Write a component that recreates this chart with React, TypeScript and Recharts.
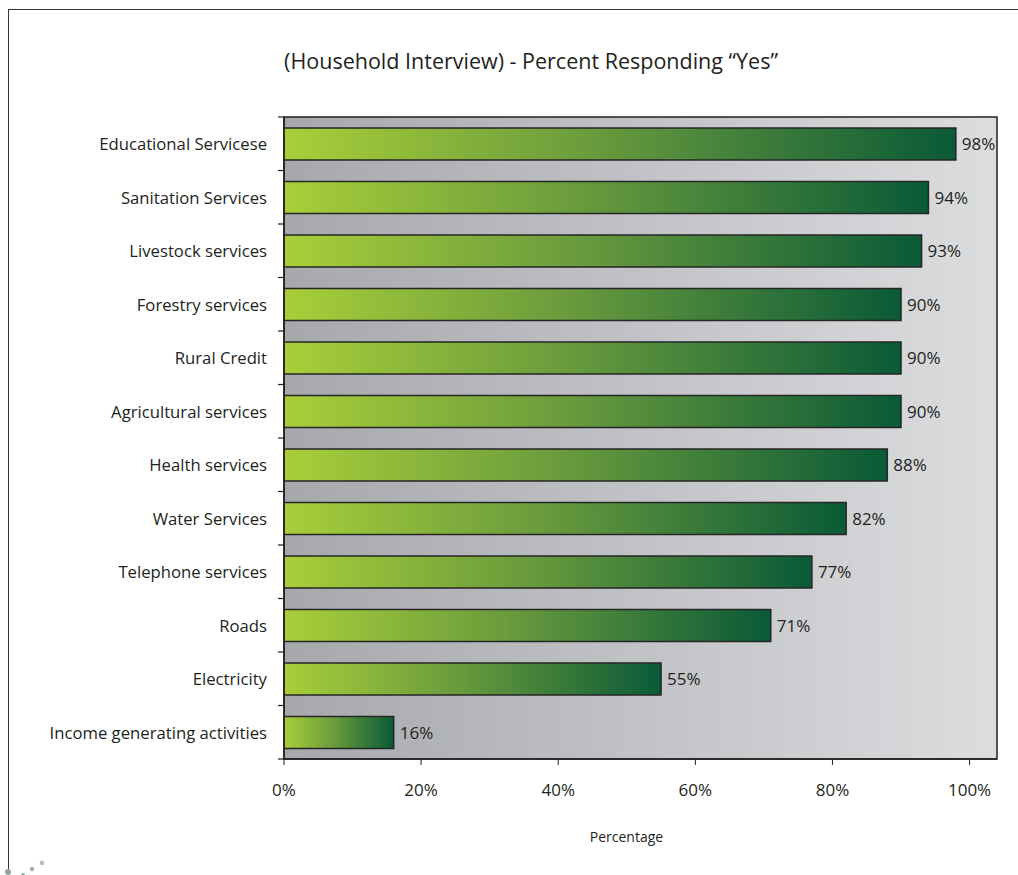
import { BarChart, Bar, XAxis, YAxis, CartesianGrid, LabelList, ReferenceArea } from 'recharts';

const categories = [
  'Educational Servicese',
  'Sanitation Services',
  'Livestock services',
  'Forestry services',
  'Rural Credit',
  'Agricultural services',
  'Health services',
  'Water Services',
  'Telephone services',
  'Roads',
  'Electricity',
  'Income generating activities',
];

const percentYes = [98, 94, 93, 90, 90, 90, 88, 82, 77, 71, 55, 16];

const xTicks = [0, 20, 40, 60, 80, 100];

const chartData = categories.map((name, i) => ({
  name,
  value: percentYes[i],
  label: `${percentYes[i]}%`,
}));

const TEXT = '#231f20';
const FONT = '"Open Sans", sans-serif';

function CategoryTick(props: any) {
  const { x, y, payload, index } = props;
  const half = payload.offset ?? 26.75;
  const axisX = x + 17;
  return (
    <g>
      <text x={x} y={y} textAnchor="end" dominantBaseline="central" fill={TEXT} fontSize={16.7} fontFamily={FONT}>
        {payload.value}
      </text>
      <line x1={axisX - 6} x2={axisX} y1={y - half} y2={y - half} stroke={TEXT} strokeWidth={1.2} />
      {index === categories.length - 1 && (
        <line x1={axisX - 6} x2={axisX} y1={y + half} y2={y + half} stroke={TEXT} strokeWidth={1.2} />
      )}
    </g>
  );
}

export default function App() {
  return (
    <div style={{ position: 'absolute', left: 0, top: 0, width: 1018, height: 875, overflow: 'hidden', background: '#fff' }}>
      <div
        style={{
          position: 'absolute',
          left: 8,
          top: 9,
          width: 1100,
          height: 1000,
          borderLeft: '1.5px solid #333',
          borderTop: '1.5px solid #333',
        }}
      />
      <div
        style={{
          position: 'absolute',
          left: 0,
          width: 1062,
          top: 46,
          textAlign: 'center',
          fontFamily: FONT,
          fontSize: 21.5,
          color: TEXT,
        }}
      >
        (Household Interview) - Percent Responding “Yes”
      </div>
      <svg style={{ position: 'absolute', left: 0, top: 855 }} width={60} height={20}>
        <circle cx={8} cy={17} r={3} fill="#93a79a" />
        <circle cx={23} cy={20} r={2} fill="#93a79a" />
        <circle cx={32} cy={14} r={2.3} fill="#a3b5a8" />
        <circle cx={42} cy={8} r={2.3} fill="#b3c2b7" />
      </svg>
      <div style={{ position: 'absolute', left: 0, top: 0 }}>
        <BarChart
          width={1018}
          height={875}
          data={chartData}
          layout="vertical"
          margin={{ top: 117, right: 21, bottom: 76, left: 0 }}
        >
          <defs>
            <linearGradient id="plotBg" x1="0" y1="0" x2="1" y2="0">
              <stop offset="0%" stopColor="#a7a8ac" />
              <stop offset="100%" stopColor="#dcdddf" />
            </linearGradient>
            <linearGradient id="barFill" x1="0" y1="0" x2="1" y2="0">
              <stop offset="0%" stopColor="#a8cf39" />
              <stop offset="45%" stopColor="#6b9c3d" />
              <stop offset="100%" stopColor="#0a5a37" />
            </linearGradient>
          </defs>
          <CartesianGrid horizontal={false} vertical={false} fill="url(#plotBg)" />
          <XAxis
            type="number"
            domain={[0, 104]}
            ticks={xTicks}
            allowDataOverflow
            tickFormatter={(v: number) => `${v}%`}
            tick={{ fill: TEXT, fontSize: 17, fontFamily: FONT }}
            tickSize={6}
            tickMargin={19}
            height={40}
            axisLine={{ stroke: TEXT, strokeWidth: 1.5 }}
            tickLine={{ stroke: TEXT }}
            label={{ value: 'Percentage', position: 'bottom', offset: 33, dx: -14, fill: TEXT, fontSize: 14, fontFamily: FONT }}
          />
          <YAxis
            type="category"
            dataKey="name"
            width={284}
            interval={0}
            tickSize={6}
            tickMargin={11}
            tickLine={false}
            tick={<CategoryTick />}
            axisLine={{ stroke: TEXT, strokeWidth: 1.5 }}
          />
          <ReferenceArea x1={0} x2={104} fill="none" stroke={TEXT} strokeWidth={1.5} />
          <Bar dataKey="value" fill="url(#barFill)" stroke="#262626" strokeWidth={1.5} barSize={32} isAnimationActive={false}>
            <LabelList dataKey="label" position="right" offset={6} fill={TEXT} fontSize={17} fontFamily={FONT} />
          </Bar>
        </BarChart>
      </div>
    </div>
  );
}
